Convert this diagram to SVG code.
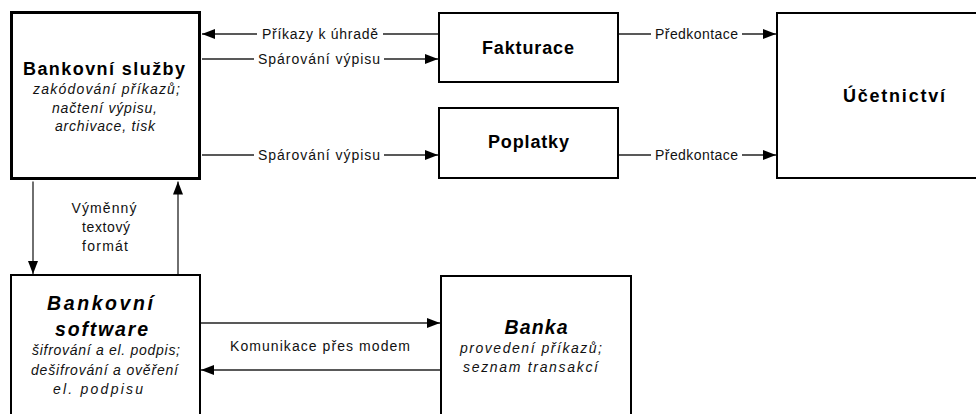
<svg xmlns="http://www.w3.org/2000/svg" width="976" height="414" viewBox="0 0 976 414">
<style>
.box{fill:#fff;stroke:#000;stroke-width:2}
.thick{stroke-width:3}
.ln{stroke:#222;stroke-width:1.3;fill:none;marker-end:url(#ah)}
.t{font-family:"Liberation Sans",Arial,sans-serif;fill:#000;text-anchor:middle}
.title{font-size:18px;font-weight:bold}
.bi{font-size:19.5px;font-weight:bold;font-style:italic}
.it{font-size:14px;font-style:italic;fill:#111}
.lab{font-size:14px;fill:#111}
.bg{fill:#fff}
</style>
<defs>
<marker id="ah" markerUnits="userSpaceOnUse" markerWidth="13" markerHeight="10" viewBox="0 0 13 10" refX="13" refY="5" orient="auto">
<path d="M0,0 L13,5 L0,10 z" fill="#000"/>
</marker>
</defs>
<rect width="976" height="414" fill="#fff"/>
<g id="connectors">
<line class="ln" x1="438" y1="34" x2="202" y2="34"/>
<line class="ln" x1="202" y1="59" x2="438" y2="59"/>
<line class="ln" x1="202" y1="155" x2="438" y2="155"/>
<line class="ln" x1="619" y1="34" x2="776" y2="34"/>
<line class="ln" x1="619" y1="155" x2="776" y2="155"/>
<line class="ln" x1="33" y1="181.5" x2="33" y2="274"/>
<line class="ln" x1="178" y1="274" x2="178" y2="181.5"/>
<line class="ln" x1="201" y1="323" x2="440" y2="323"/>
<line class="ln" x1="440" y1="370" x2="201" y2="370"/>
<rect class="bg" x="257" y="26" width="126" height="16"/>
<rect class="bg" x="254" y="51" width="130" height="16"/>
<rect class="bg" x="254" y="147" width="130" height="16"/>
<rect class="bg" x="651" y="26" width="91" height="16"/>
<rect class="bg" x="651" y="147" width="91" height="16"/>
<text class="t lab" x="320" y="38.5" textLength="116">Příkazy k úhradě</text>
<text class="t lab" x="319" y="63.5" textLength="122">Spárování výpisu</text>
<text class="t lab" x="319" y="159.5" textLength="122">Spárování výpisu</text>
<text class="t lab" x="696.5" y="38.5" textLength="83">Předkontace</text>
<text class="t lab" x="696.5" y="159.5" textLength="83">Předkontace</text>
<text class="t lab" x="104" y="213" textLength="65">Výměnný</text>
<text class="t lab" x="106" y="232" textLength="48">textový</text>
<text class="t lab" x="105" y="251" textLength="46">formát</text>
<text class="t lab" x="320" y="351" textLength="180">Komunikace přes modem</text>
</g>
<g id="bankovni-sluzby">
<rect class="box thick" x="11.5" y="12.5" width="188" height="166"/>
<text class="t title" x="104" y="75" textLength="162">Bankovní služby</text>
<text class="t it" x="106.5" y="94" textLength="147">zakódování příkazů;</text>
<text class="t it" x="104.5" y="112.5" textLength="105">načtení výpisu,</text>
<text class="t it" x="105" y="131" textLength="100">archivace, tisk</text>
</g>
<g id="fakturace">
<rect class="box" x="439" y="13" width="179" height="69"/>
<text class="t title" x="528" y="53.5" textLength="92">Fakturace</text>
</g>
<g id="poplatky">
<rect class="box" x="439" y="108" width="179" height="70"/>
<text class="t title" x="528.5" y="148" textLength="81">Poplatky</text>
</g>
<g id="ucetnictvi">
<rect class="box" x="777" y="13" width="240" height="165"/>
<text class="t title" x="894" y="102" textLength="102">Účetnictví</text>
</g>
<g id="bankovni-software">
<rect class="box" x="11" y="275" width="189" height="150"/>
<text class="t bi" x="100" y="310" textLength="106">Bankovní</text>
<text class="t bi" x="101.5" y="336" textLength="93">software</text>
<text class="t it" x="106" y="355" textLength="148">šifrování a el. podpis;</text>
<text class="t it" x="104.5" y="374.5" textLength="147">dešifrování a ověření</text>
<text class="t it" x="98" y="393.5" textLength="90">el. podpisu</text>
</g>
<g id="banka">
<rect class="box" x="441" y="276" width="190" height="150"/>
<text class="t bi" x="536" y="333.5" textLength="63">Banka</text>
<text class="t it" x="531" y="353" textLength="142">provedení příkazů;</text>
<text class="t it" x="530.5" y="372" textLength="135">seznam transakcí</text>
</g>
</svg>
